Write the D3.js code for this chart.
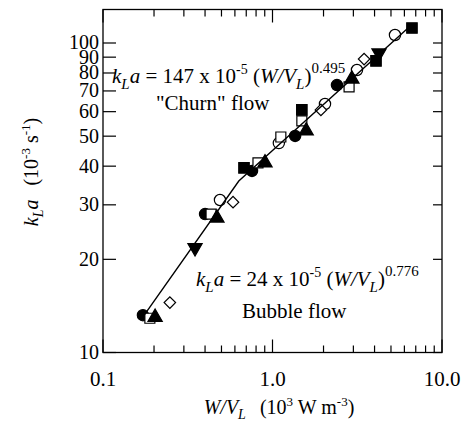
<!DOCTYPE html>
<html>
<head>
<meta charset="utf-8">
<script src="https://cdn.jsdelivr.net/npm/d3@7"></script>
<style>
  html, body { margin: 0; padding: 0; background: #fff; }
  svg text { font-family: "Liberation Serif", "Times New Roman", serif; fill: #000; }
</style>
</head>
<body>
<svg id="chart" width="464" height="427"></svg>
<script>
// Specific power input W/V_L (10^3 W m^-3) and kLa (10^-3 s^-1), one pair of arrays per symbol
const filledCircleX = [0.172, 0.40, 0.757, 1.36, 2.40];
const filledCircleY = [13.2, 28.0, 38.6, 50.1, 73.1];
const openCircleX = [0.49, 1.09, 2.04, 3.15, 5.28];
const openCircleY = [31.1, 47.5, 63.5, 81.8, 106.1];
const filledSquareX = [0.679, 1.49, 4.08, 6.65];
const filledSquareY = [39.5, 60.8, 87.5, 111.8];
const openSquareX = [0.189, 0.434, 0.821, 1.12, 1.49, 2.83];
const openSquareY = [12.9, 28.0, 41.0, 49.7, 56.0, 72.1];
const filledTriangleX = [0.203, 0.47, 0.903, 1.58, 2.94];
const filledTriangleY = [13.0, 27.2, 41.0, 52.0, 76.5];
const filledDownTriangleX = [0.349, 4.25];
const filledDownTriangleY = [21.8, 92.8];
const openDiamondX = [0.248, 0.585, 1.93, 3.47];
const openDiamondY = [14.5, 30.6, 60.8, 88.7];

// Correlations: kLa [s^-1] = C * (W/V_L [W m^-3])^n
const bubbleFit = { C: 24e-5, n: 0.776, from: 0.175 };
const churnFit = { C: 147e-5, n: 0.495, to: 6.5 };

// Axis ticks and labels
const xMajorTicks = [0.1, 1, 10];
const xMajorLabels = ["0.1", "1.0", "10.0"];
const xMinorTicks = [0.2, 0.3, 0.4, 0.5, 0.6, 0.7, 0.8, 0.9, 2, 3, 4, 5, 6, 7, 8, 9];
const yTicks = [10, 20, 30, 40, 50, 60, 70, 80, 90, 100];

const svg = d3.select("#chart");
const plot = { left: 103, right: 442, top: 9.5, bottom: 352.5 };

const x = d3.scaleLog().domain([0.1, 10]).range([plot.left, plot.right]);
const y = d3.scaleLog().domain([10, 128.3]).range([plot.bottom, plot.top]);

// Frame
svg.append("rect")
  .attr("x", plot.left).attr("y", plot.top)
  .attr("width", plot.right - plot.left).attr("height", plot.bottom - plot.top)
  .attr("fill", "none").attr("stroke", "#000").attr("stroke-width", 1.3);

// Inward-pointing ticks on all four sides
const tickG = svg.append("g").attr("stroke", "#000").attr("stroke-width", 1.2);
function xTick(v, len) {
  tickG.append("line").attr("x1", x(v)).attr("x2", x(v)).attr("y1", plot.bottom).attr("y2", plot.bottom - len);
  tickG.append("line").attr("x1", x(v)).attr("x2", x(v)).attr("y1", plot.top).attr("y2", plot.top + len);
}
xMajorTicks.forEach(v => xTick(v, 13));
xMinorTicks.forEach(v => xTick(v, 7));
yTicks.forEach(v => {
  tickG.append("line").attr("x1", plot.left).attr("x2", plot.left + 13).attr("y1", y(v)).attr("y2", y(v));
  tickG.append("line").attr("x1", plot.right).attr("x2", plot.right - 9).attr("y1", y(v)).attr("y2", y(v));
});

// Tick labels
svg.append("g").selectAll("text").data(xMajorTicks).join("text")
  .attr("x", d => x(d)).attr("y", 386)
  .attr("text-anchor", "middle").attr("font-size", 21)
  .text((d, i) => xMajorLabels[i]);
svg.append("g").selectAll("text").data(yTicks).join("text")
  .attr("x", 99).attr("y", d => y(d) + 6.5)
  .attr("text-anchor", "end").attr("font-size", 20)
  .text(d => d);

// Axis titles
const xTitle = svg.append("text").attr("x", 279).attr("y", 414).attr("text-anchor", "middle").attr("font-size", 20);
xTitle.append("tspan").attr("font-style", "italic").text("W/V");
xTitle.append("tspan").attr("font-style", "italic").attr("font-size", 14).attr("dy", 5).text("L");
xTitle.append("tspan").attr("dy", -5).text("\u2002\u2009(10");
xTitle.append("tspan").attr("font-size", 13).attr("dy", -8).text("3");
xTitle.append("tspan").attr("dy", 8).text(" W m");
xTitle.append("tspan").attr("font-size", 13).attr("dy", -8).text("-3");
xTitle.append("tspan").attr("dy", 8).text(")");

const yTitle = svg.append("text").attr("transform", "translate(38,172) rotate(-90)")
  .attr("text-anchor", "middle").attr("font-size", 20);
yTitle.append("tspan").attr("font-style", "italic").text("k");
yTitle.append("tspan").attr("font-style", "italic").attr("font-size", 14).attr("dy", 5).text("L");
yTitle.append("tspan").attr("font-style", "italic").attr("dy", -5).text("a");
yTitle.append("tspan").text("\u2002\u2009(10");
yTitle.append("tspan").attr("font-size", 13).attr("dy", -8).text("-3");
yTitle.append("tspan").attr("dy", 8).text(" s");
yTitle.append("tspan").attr("font-size", 13).attr("dy", -8).text("-1");
yTitle.append("tspan").attr("dy", 8).text(")");

// Data markers
const series = [
  { xs: filledCircleX, ys: filledCircleY, shape: d3.symbolCircle, filled: true, size: 100 },
  { xs: openCircleX, ys: openCircleY, shape: d3.symbolCircle, filled: false, size: 100 },
  { xs: filledSquareX, ys: filledSquareY, shape: d3.symbolSquare, filled: true, size: 110 },
  { xs: openSquareX, ys: openSquareY, shape: d3.symbolSquare, filled: false, size: 100 },
  { xs: filledTriangleX, ys: filledTriangleY, shape: d3.symbolTriangle, filled: true, size: 88 },
  { xs: filledDownTriangleX, ys: filledDownTriangleY, shape: d3.symbolTriangle, filled: true, flip: true, size: 88 },
  { xs: openDiamondX, ys: openDiamondY, shape: d3.symbolSquare, filled: false, rotate: 45, size: 66 }
];
const markG = svg.append("g");
series.forEach(s => {
  const sym = d3.symbol().type(s.shape).size(s.size);
  markG.append("g").selectAll("path").data(s.xs.map((v, i) => [v, s.ys[i]])).join("path")
    .attr("d", sym)
    .attr("transform", d => `translate(${x(d[0])},${y(d[1])})` + (s.flip ? " rotate(180)" : "") + (s.rotate ? ` rotate(${s.rotate})` : ""))
    .attr("fill", s.filled ? "#000" : "#fff")
    .attr("stroke", "#000").attr("stroke-width", 1.2);
});

// Correlation lines: bubble flow below the crossover, churn flow above it
const kla = (fit, w) => fit.C * Math.pow(w * 1000, fit.n) * 1000;
const crossW = Math.pow(churnFit.C / bubbleFit.C, 1 / (bubbleFit.n - churnFit.n)) / 1000;
const fitPts = [
  [bubbleFit.from, kla(bubbleFit, bubbleFit.from)],
  [crossW, kla(bubbleFit, crossW)],
  [churnFit.to, kla(churnFit, churnFit.to)]
];
svg.append("path")
  .attr("d", d3.line().x(d => x(d[0])).y(d => y(d[1]))(fitPts))
  .attr("fill", "none").attr("stroke", "#000").attr("stroke-width", 1.4);

// Correlation annotations
function equation(xp, yp, coef, expo) {
  const t = svg.append("text").attr("x", xp).attr("y", yp).attr("font-size", 21);
  t.append("tspan").attr("font-style", "italic").text("k");
  t.append("tspan").attr("font-style", "italic").attr("font-size", 15).attr("dy", 6).text("L");
  t.append("tspan").attr("font-style", "italic").attr("dy", -6).text("a");
  t.append("tspan").text(` = ${coef} x 10`);
  t.append("tspan").attr("font-size", 14).attr("dy", -9).text("-5");
  t.append("tspan").attr("dy", 9).text(" (");
  t.append("tspan").attr("font-style", "italic").text("W/V");
  t.append("tspan").attr("font-style", "italic").attr("font-size", 15).attr("dy", 6).text("L");
  t.append("tspan").attr("dy", -6).text(")");
  t.append("tspan").attr("font-size", 15).attr("dy", -10).text(expo);
}
equation(112, 83, "147", "0.495");
svg.append("text").attr("x", 156).attr("y", 110).attr("font-size", 21).text("\"Churn\" flow");
equation(196, 286, "24", "0.776");
svg.append("text").attr("x", 242).attr("y", 318).attr("font-size", 21).text("Bubble flow");
</script>
</body>
</html>
